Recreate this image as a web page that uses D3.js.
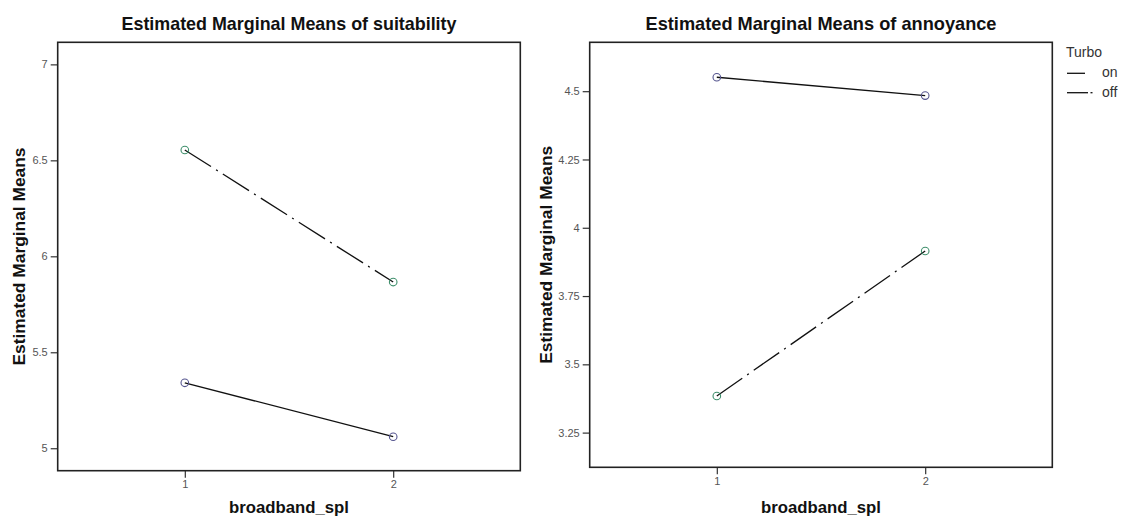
<!DOCTYPE html>
<html>
<head>
<meta charset="utf-8">
<script src="https://cdn.jsdelivr.net/npm/d3@7"></script>
<style>
  html, body { margin: 0; padding: 0; background: #fff; }
  svg { display: block; }
</style>
</head>
<body>
<svg id="chart" width="1125" height="520"></svg>
<script>
// ---- data ----
const levels = [1, 2];
const levelLabels = ["1", "2"];
const seriesNames = ["on", "off"];
const suitabilityOn = [5.341, 5.060];
const suitabilityOff = [6.554, 5.866];
const annoyanceOn = [4.551, 4.484];
const annoyanceOff = [3.384, 3.915];
const suitabilityTicks = [5, 5.5, 6, 6.5, 7];
const suitabilityTickLabels = ["5", "5.5", "6", "6.5", "7"];
const annoyanceTicks = [3.25, 3.5, 3.75, 4, 4.25, 4.5];
const annoyanceTickLabels = ["3.25", "3.5", "3.75", "4", "4.25", "4.5"];
const titles = ["Estimated Marginal Means of suitability", "Estimated Marginal Means of annoyance"];
const yTitle = "Estimated Marginal Means";
const xTitle = "broadband_spl";
const legendTitle = "Turbo";

// ---- styles ----
const narrow = "'Liberation Sans Narrow','Arial Narrow','Liberation Sans',Arial,sans-serif";
const plain = "'Liberation Sans',Arial,sans-serif";
const onColor = "#55558f";
const offColor = "#3f8f6c";
const dashOff = "31,6,2,6";

const svg = d3.select("#chart");

const panels = [
  { x0: 57.7, x1: 520.3, y0: 42.3, y1: 470.7, ydom: [4.883, 7.115],
    on: suitabilityOn, off: suitabilityOff, ticks: suitabilityTicks, tickLabels: suitabilityTickLabels,
    title: titles[0], titleW: 335, yLabelX: 19 },
  { x0: 589.7, x1: 1052.3, y0: 42.3, y1: 467.3, ydom: [3.123, 4.679],
    on: annoyanceOn, off: annoyanceOff, ticks: annoyanceTicks, tickLabels: annoyanceTickLabels,
    title: titles[1], titleW: 351, yLabelX: 546 }
];

panels.forEach((p, i) => {
  const x = d3.scaleLinear().domain([0.39, 2.61]).range([p.x0, p.x1]);
  const y = d3.scaleLinear().domain(p.ydom).range([p.y1, p.y0]);
  const g = svg.append("g");

  // y axis
  const yAxis = d3.axisLeft(y).tickValues(p.ticks).tickSize(7).tickPadding(3)
    .tickFormat((d, k) => p.tickLabels[k]);
  const ya = g.append("g").attr("transform", `translate(${p.x0},0)`).call(yAxis);
  ya.select(".domain").remove();
  ya.selectAll("line").attr("stroke", "#333").attr("stroke-width", 1.2);
  ya.selectAll("text").attr("fill", "#555").style("font-family", plain).style("font-size", "11px");

  // x axis
  const xAxis = d3.axisBottom(x).tickValues(levels).tickSize(7).tickPadding(3)
    .tickFormat((d, k) => levelLabels[k]);
  const xa = g.append("g").attr("transform", `translate(0,${p.y1})`).call(xAxis);
  xa.select(".domain").remove();
  xa.selectAll("line").attr("stroke", "#333").attr("stroke-width", 1.2);
  xa.selectAll("text").attr("fill", "#555").style("font-family", plain).style("font-size", "11px");

  // frame
  g.append("rect").attr("x", p.x0).attr("y", p.y0)
    .attr("width", p.x1 - p.x0).attr("height", p.y1 - p.y0)
    .attr("fill", "none").attr("stroke", "#222").attr("stroke-width", 1.6);

  const line = d3.line().x((d, k) => x(levels[k])).y(d => y(d));

  // series
  [[p.on, null, onColor], [p.off, dashOff, offColor]].forEach(([vals, dash, col]) => {
    g.append("path").datum(vals).attr("d", line)
      .attr("fill", "none").attr("stroke", "#111").attr("stroke-width", 1.3)
      .attr("stroke-dasharray", dash);
    g.selectAll(null).data(vals).enter().append("circle")
      .attr("cx", (d, k) => x(levels[k])).attr("cy", d => y(d)).attr("r", 3.8)
      .attr("fill", "none").attr("stroke", col).attr("stroke-width", 1.1);
  });

  // title
  g.append("text").attr("x", (p.x0 + p.x1) / 2).attr("y", 30)
    .attr("text-anchor", "middle").attr("textLength", p.titleW).attr("lengthAdjust", "spacingAndGlyphs")
    .style("font-family", narrow).style("font-weight", "bold").style("font-size", "19px")
    .attr("fill", "#111").text(p.title);

  // x label
  g.append("text").attr("x", (p.x0 + p.x1) / 2).attr("y", 513)
    .attr("text-anchor", "middle").attr("textLength", 120).attr("lengthAdjust", "spacingAndGlyphs")
    .style("font-family", narrow).style("font-weight", "bold").style("font-size", "17px")
    .attr("fill", "#111").text(xTitle);

  // y label
  g.append("text").attr("transform", `translate(${p.yLabelX + 6},${(p.y0 + p.y1) / 2}) rotate(-90)`)
    .attr("text-anchor", "middle").attr("textLength", 218).attr("lengthAdjust", "spacingAndGlyphs")
    .style("font-family", narrow).style("font-weight", "bold").style("font-size", "17px")
    .attr("fill", "#111").text(yTitle);
});

// legend
const lg = svg.append("g");
lg.append("text").attr("x", 1066).attr("y", 57).style("font-family", plain).style("font-size", "14px")
  .attr("fill", "#333").text(legendTitle);
const legendY = d3.scalePoint().domain(seriesNames).range([73.3, 92.7]);
seriesNames.forEach((name, k) => {
  const yy = legendY(name);
  lg.append("line").attr("x1", 1067).attr("x2", k === 0 ? 1085 : 1088)
    .attr("y1", yy).attr("y2", yy).attr("stroke", "#111").attr("stroke-width", 1.3);
  if (k === 1) {
    lg.append("line").attr("x1", 1090.5).attr("x2", 1092.5).attr("y1", yy).attr("y2", yy)
      .attr("stroke", "#111").attr("stroke-width", 1.3);
  }
  lg.append("text").attr("x", 1102).attr("y", yy + 4).style("font-family", plain).style("font-size", "14px")
    .attr("fill", "#333").text(name);
});
</script>
</body>
</html>
